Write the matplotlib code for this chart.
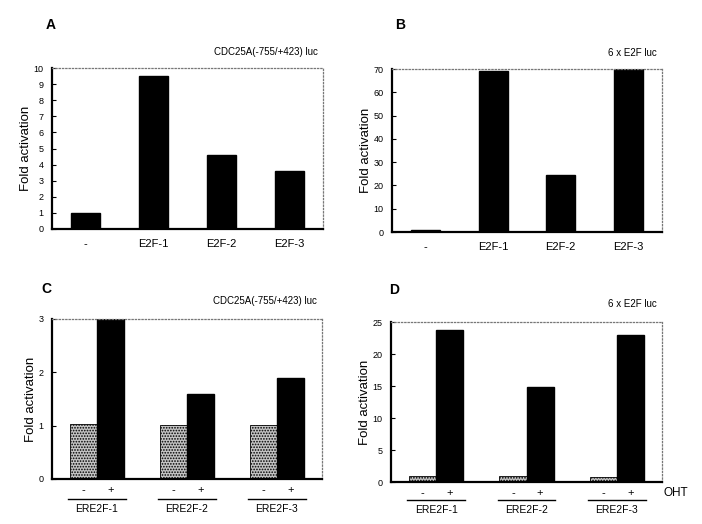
import numpy as np
import matplotlib
matplotlib.use('Agg')
import matplotlib.pyplot as plt
import matplotlib.transforms as mtransforms

plt.rcParams['font.family'] = ['Liberation Sans', 'DejaVu Sans']
plt.rcParams['hatch.color'] = '#5a5a5a'
plt.rcParams['hatch.linewidth'] = 0.8

# dados
grupos_ab = ['-', 'E2F-1', 'E2F-2', 'E2F-3']
valores_a = [1.0, 9.5, 4.6, 3.6]
valores_b = [1.0, 69.0, 24.5, 70.0]

grupos_cd = ['ERE2F-1', 'ERE2F-2', 'ERE2F-3']
c_menos = [1.03, 1.02, 1.01]
c_mais = [3.0, 1.6, 1.9]
d_menos = [1.0, 0.9, 0.8]
d_mais = [23.8, 14.8, 23.0]

titulo_cdc = 'CDC25A(-755/+423) luc'
titulo_e2f = '6 x E2F luc'

W, H = 702, 524
fig = plt.figure(figsize=(W / 100, H / 100), dpi=100)


def eixo(esq, dir, topo, base):
    return fig.add_axes([esq / W, 1 - base / H, (dir - esq) / W, (base - topo) / H])


def estilo(ax, ymax, yticks):
    ax.set_ylim(0, ymax)
    ax.set_yticks(yticks)
    ax.tick_params(axis='y', direction='in', length=3, width=0.8, labelsize=6.5, pad=6)
    ax.tick_params(axis='x', length=0, labelsize=8, pad=7)
    for s in ['left', 'bottom']:
        ax.spines[s].set_linewidth(1.6)
        ax.spines[s].set_color('black')
    for s in ['top', 'right']:
        ax.spines[s].set_linestyle(':')
        ax.spines[s].set_linewidth(0.9)
        ax.spines[s].set_color('#777777')
    ax.set_ylabel('Fold activation', fontsize=9.5, labelpad=1)


def painel_simples(ax, valores, ymax, yticks, titulo):
    x = np.arange(len(grupos_ab))
    ax.bar(x, valores, width=0.43, color='black', edgecolor='black')
    ax.set_xlim(-0.5, 3.5)
    ax.set_xticks(x)
    ax.set_xticklabels(grupos_ab)
    estilo(ax, ymax, yticks)
    ax.text(0.98, 1.1, titulo, transform=ax.transAxes, ha='right', va='center', fontsize=7)


def painel_duplo(ax, menos, mais, ymax, yticks, titulo, y_sinal, y_linha, y_grupo):
    x = np.arange(len(grupos_cd))
    w = 0.3
    ax.bar(x - w / 2, menos, width=w, color='#c4c4c4', edgecolor='black', linewidth=0.6, hatch='......')
    ax.bar(x + w / 2, mais, width=w, color='black', edgecolor='black')
    ax.set_xlim(-0.5, 2.5)
    ax.set_xticks([])
    estilo(ax, ymax, yticks)
    trans = mtransforms.blended_transform_factory(ax.transData, ax.transAxes)
    for xi, nome in zip(x, grupos_cd):
        ax.text(xi - w / 2, y_sinal, '-', transform=trans, ha='center', va='center', fontsize=8)
        ax.text(xi + w / 2, y_sinal, '+', transform=trans, ha='center', va='center', fontsize=8)
        ax.plot([xi - 0.32, xi + 0.32], [y_linha, y_linha], transform=trans, color='black',
                lw=1.0, clip_on=False)
        ax.text(xi, y_grupo, nome, transform=trans, ha='center', va='center', fontsize=7.5)
    ax.text(0.98, 1.11, titulo, transform=ax.transAxes, ha='right', va='center', fontsize=7)


ax_a = eixo(52, 323, 68, 229)
painel_simples(ax_a, valores_a, 10, range(0, 11), titulo_cdc)

ax_b = eixo(392, 662, 69, 232)
painel_simples(ax_b, valores_b, 70, range(0, 71, 10), titulo_e2f)

ax_c = eixo(52, 322, 319, 479)
painel_duplo(ax_c, c_menos, c_mais, 3, range(0, 4), titulo_cdc, -0.069, -0.125, -0.19)

ax_d = eixo(391, 662, 322, 482)
painel_duplo(ax_d, d_menos, d_mais, 25, range(0, 26, 5), titulo_e2f, -0.069, -0.11, -0.175)
ax_d.text(1.05, -0.069, 'OHT', transform=ax_d.transAxes, ha='center', va='center', fontsize=8.5)

# letras dos paineis
for letra, (px, py) in zip('ABCD', [(51, 25), (400, 25), (46, 289), (394, 290)]):
    fig.text(px / W, 1 - py / H, letra, ha='center', va='center', fontsize=10, fontweight='bold')

fig.savefig('out.png', dpi=100)
